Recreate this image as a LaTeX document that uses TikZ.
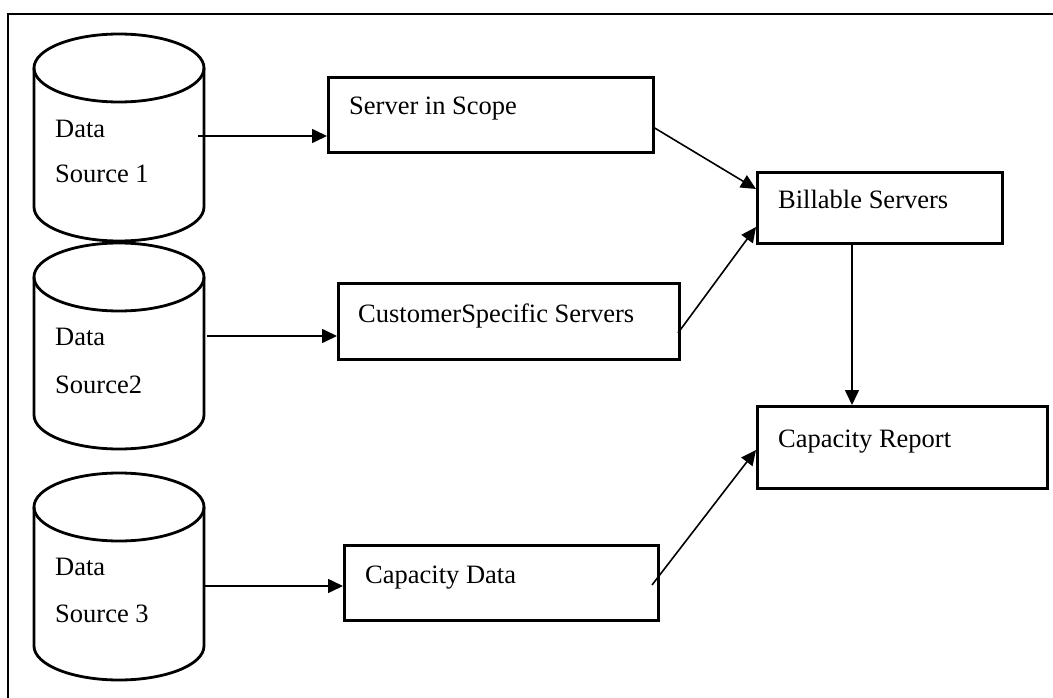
\documentclass[tikz,border=0pt]{standalone}
\usepackage{fontspec}
\setmainfont{Liberation Serif}
\usetikzlibrary{arrows.meta}
\tikzset{
  boxst/.style={draw, line width=3pt, anchor=north west, inner sep=0pt},
  lbl/.style={anchor=base west, inner sep=0pt, font=\fontsize{26.5}{31}\selectfont},
  cyl/.style={line width=2.8pt},
  conn/.style={line width=1.6pt, -{Triangle[length=15pt,width=14pt]}},
  frameline/.style={line width=2.2pt}
}
\begin{document}
\begin{tikzpicture}[x=1pt,y=-1pt]
\useasboundingbox (0,0) rectangle (1053,698);
% frame
\draw[frameline] (8,698) -- (8,14) -- (1053,14);
% cylinders
\foreach \t/\b in {68/207, 277/415, 507/646}{
  \draw[cyl] (34,\t) -- (34,\b) arc[start angle=180,end angle=0,x radius=85,y radius=34] -- (204,\t);
  \draw[cyl] (119,\t) ellipse [x radius=85,y radius=34];
}
\node[inner sep=0pt, minimum width=170, minimum height=208, anchor=north west] (ds1) at (34,34) {};
\node[inner sep=0pt, minimum width=170, minimum height=207, anchor=north west] (ds2) at (34,243) {};
\node[inner sep=0pt, minimum width=170, minimum height=209, anchor=north west] (ds3) at (34,473) {};
\node[lbl] (ds1a) at (55,138) {Data};
\node[lbl] (ds1b) at (55,183) {Source 1};
\node[lbl] (ds2a) at (55,345) {Data};
\node[lbl] (ds2b) at (55,393) {Source2};
\node[lbl] (ds3a) at (55,575) {Data};
\node[lbl] (ds3b) at (55,622) {Source 3};
% boxes
\node[boxst, minimum width=325, minimum height=75] (sis) at (327,76) {};
\node[lbl] (sist) at (349,115) {Server in Scope};
\node[boxst, minimum width=341, minimum height=76] (css) at (337,282) {};
\node[lbl] (csst) at (358,322) {CustomerSpecific Servers};
\node[boxst, minimum width=314, minimum height=75] (cd) at (343,544) {};
\node[lbl] (cdt) at (365,583) {Capacity Data};
\node[boxst, minimum width=245, minimum height=71] (bill) at (756,171) {};
\node[lbl] (billt) at (778,208) {Billable Servers};
\node[boxst, minimum width=290, minimum height=82] (cap) at (756,405) {};
\node[lbl] (capt) at (778,447) {Capacity Report};
% connector end points
\coordinate (a1s) at (198,136);
\coordinate (a2s) at (207,336);
\coordinate (a3s) at (204,586);
\coordinate (b1s) at (653,127);
\coordinate (b2s) at (678,333);
\coordinate (b3s) at (652,585);
% connectors
\draw[conn] (a1s) -- (sis.west |- a1s);
\draw[conn] (a2s) -- (css.west |- a2s);
\draw[conn] (a3s) -- (cd.west |- a3s);
\draw[conn] (b1s) -- (bill.west |- 0,189);
\draw[conn] (b2s) -- (bill.west |- 0,227);
\draw[conn] (b3s) -- (cap.west |- 0,450);
\draw[conn] (bill.south -| 852,0) -- (cap.north -| 852,0);
\end{tikzpicture}
\end{document}
